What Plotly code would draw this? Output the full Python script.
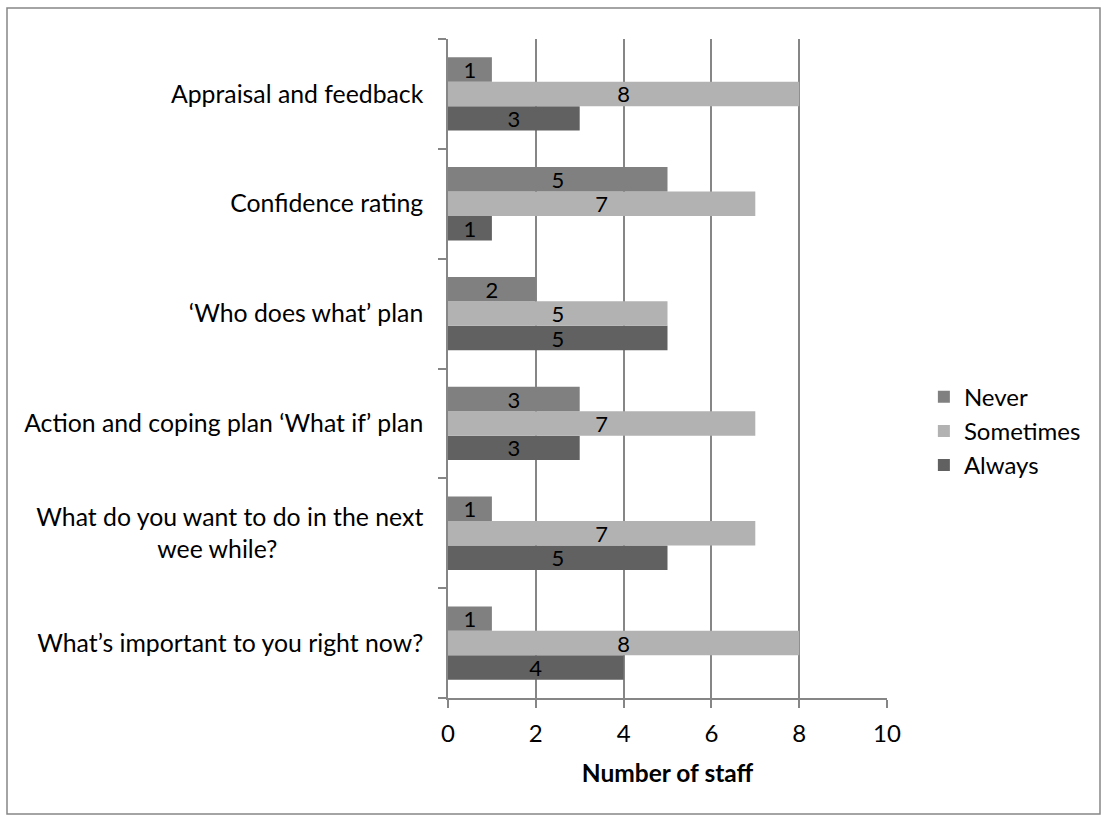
import plotly.graph_objects as go

categories = [
    "What’s important to you right now?",
    "What do you want to do in the next<br>wee while?",
    "Action and coping plan ‘What if’ plan",
    "‘Who does what’ plan",
    "Confidence rating",
    "Appraisal and feedback",
]
never = [1, 1, 3, 2, 5, 1]
sometimes = [8, 7, 7, 5, 7, 8]
always = [4, 5, 3, 5, 1, 3]
x_ticks = [0, 2, 4, 6, 8, 10]

FONT = "Lato"
FS = 24
series = [
    ("Always", always, "#616161"),
    ("Sometimes", sometimes, "#b2b2b2"),
    ("Never", never, "#808080"),
]

fig = go.Figure()
for name, vals, col in series:
    fig.add_trace(go.Bar(
        y=categories, x=vals, name=name, orientation="h",
        marker=dict(color=col, line=dict(width=0)),
        text=[str(v) for v in vals], textposition="inside", textangle=0,
        insidetextanchor="middle", constraintext="none",
        textfont=dict(family=FONT, size=22, color="#000000"),
        cliponaxis=False,
    ))

L, R, T, B = 448, 221, 39, 123
W, H = 1108, 821
pw, ph = W - L - R, H - T - B

# center the second line of the wrapped label (tick labels are right-aligned)
tick_text = [c.replace("<br>wee while?", "<br>wee while?" + "\u00a0" * 23) for c in categories]

fig.update_layout(
    width=W, height=H,
    margin=dict(l=L, r=R, t=T, b=B, pad=0),
    barmode="group", bargap=0.333, bargroupgap=0,
    plot_bgcolor="white", paper_bgcolor="white",
    font=dict(family=FONT, size=FS, color="#000000"),
    legend=dict(traceorder="reversed", x=1.084, xanchor="left", y=0.405, yanchor="middle",
                font=dict(size=FS), itemwidth=30, tracegroupgap=0),
)
fig.update_xaxes(
    range=[0, 10], tickvals=x_ticks, ticktext=[str(t) for t in x_ticks],
    showgrid=True, gridcolor="#868686", gridwidth=1.5,
    showline=True, linecolor="#868686", linewidth=1.5,
    ticks="outside", ticklen=8, tickcolor="#868686", tickwidth=1.5,
    zeroline=False, tickfont=dict(size=FS), ticklabelstandoff=5,
    title=dict(text="<b>Number of staff</b>", font=dict(size=24.5), standoff=19),
)
fig.update_yaxes(
    type="category", categoryorder="array", categoryarray=categories,
    tickvals=categories, ticktext=tick_text,
    tickson="boundaries", ticks="outside", ticklen=8, tickcolor="#868686", tickwidth=1.5,
    showline=True, linecolor="#868686", linewidth=1.5, showgrid=False,
    tickfont=dict(size=24.8), ticklabelstandoff=18,
)
# outer chart border
fig.add_shape(type="rect", xref="paper", yref="paper",
              x0=(7 - L) / pw, x1=(1100 - L) / pw,
              y0=(H - 814 - B) / ph, y1=(H - 8 - B) / ph,
              line=dict(color="#868686", width=1.5), fillcolor="rgba(0,0,0,0)", layer="below")

fig.write_html("out.html", config={"displayModeBar": False},
               post_script="document.body.style.margin='0';document.body.style.overflow='hidden';")
